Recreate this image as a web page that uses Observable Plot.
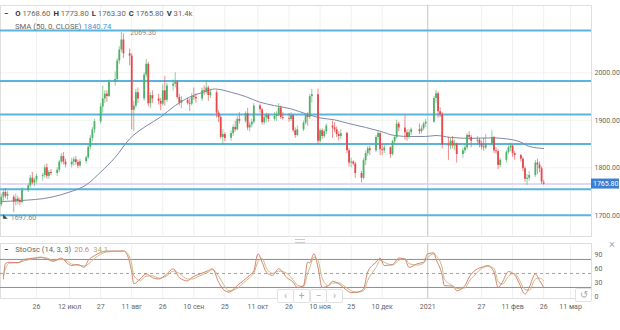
<!DOCTYPE html>
<html><head><meta charset="utf-8">
<script src="https://cdn.jsdelivr.net/npm/d3@7"></script>
<script src="https://cdn.jsdelivr.net/npm/@observablehq/plot@0.6"></script>
<style>
body{margin:0;background:#fff;font-family:Roboto,"Liberation Sans",sans-serif;}
#wrap{position:relative;width:620px;height:330px;overflow:hidden;background:#fff;}
#main{position:absolute;left:0;top:0;}
#osc{position:absolute;left:0;top:238px;}
.leg{position:absolute;font-size:7.7px;line-height:10px;color:#666;white-space:nowrap;}
.leg b{color:#333;font-weight:700;}
.btn{position:absolute;width:15px;height:12px;border:1px solid #e2e2e2;border-radius:2px;background:rgba(255,255,255,0.9);color:#aaa;font-size:10px;line-height:12px;text-align:center;}
</style></head><body>
<div id="wrap">
  <div id="main"></div>
  <div id="osc"></div>
</div>
<script>
// ---------- DATA ----------
const dates = ["2020-06-09","2020-06-10","2020-06-11","2020-06-12","2020-06-15","2020-06-16","2020-06-17","2020-06-18","2020-06-19","2020-06-22","2020-06-23","2020-06-24","2020-06-25","2020-06-26","2020-06-29","2020-06-30","2020-07-01","2020-07-02","2020-07-03","2020-07-06","2020-07-07","2020-07-08","2020-07-09","2020-07-10","2020-07-13","2020-07-14","2020-07-15","2020-07-16","2020-07-17","2020-07-20","2020-07-21","2020-07-22","2020-07-23","2020-07-24","2020-07-27","2020-07-28","2020-07-29","2020-07-30","2020-07-31","2020-08-03","2020-08-04","2020-08-05","2020-08-06","2020-08-07","2020-08-10","2020-08-11","2020-08-12","2020-08-13","2020-08-14","2020-08-17","2020-08-18","2020-08-19","2020-08-20","2020-08-21","2020-08-24","2020-08-25","2020-08-26","2020-08-27","2020-08-28","2020-08-31","2020-09-01","2020-09-02","2020-09-03","2020-09-04","2020-09-07","2020-09-08","2020-09-09","2020-09-10","2020-09-11","2020-09-14","2020-09-15","2020-09-16","2020-09-17","2020-09-18","2020-09-21","2020-09-22","2020-09-23","2020-09-24","2020-09-25","2020-09-28","2020-09-29","2020-09-30","2020-10-01","2020-10-02","2020-10-05","2020-10-06","2020-10-07","2020-10-08","2020-10-09","2020-10-12","2020-10-13","2020-10-14","2020-10-15","2020-10-16","2020-10-19","2020-10-20","2020-10-21","2020-10-22","2020-10-23","2020-10-26","2020-10-27","2020-10-28","2020-10-29","2020-10-30","2020-11-02","2020-11-03","2020-11-04","2020-11-05","2020-11-06","2020-11-09","2020-11-10","2020-11-11","2020-11-12","2020-11-13","2020-11-16","2020-11-17","2020-11-18","2020-11-19","2020-11-20","2020-11-23","2020-11-24","2020-11-25","2020-11-26","2020-11-27","2020-11-30","2020-12-01","2020-12-02","2020-12-03","2020-12-04","2020-12-07","2020-12-08","2020-12-09","2020-12-10","2020-12-11","2020-12-14","2020-12-15","2020-12-16","2020-12-17","2020-12-18","2020-12-21","2020-12-22","2020-12-23","2020-12-24","2020-12-28","2020-12-29","2020-12-30","2020-12-31","2021-01-04","2021-01-05","2021-01-06","2021-01-07","2021-01-08","2021-01-11","2021-01-12","2021-01-13","2021-01-14","2021-01-15","2021-01-18","2021-01-19","2021-01-20","2021-01-21","2021-01-22","2021-01-25","2021-01-26","2021-01-27","2021-01-28","2021-01-29","2021-02-01","2021-02-02","2021-02-03","2021-02-04","2021-02-05","2021-02-08","2021-02-09","2021-02-10","2021-02-11","2021-02-12","2021-02-15","2021-02-16","2021-02-17","2021-02-18","2021-02-19","2021-02-22","2021-02-23","2021-02-24","2021-02-25","2021-02-26"];
const opens = [1722,1738,1748,1740,1738,1728,1734,1730,1727,1752,1762,1778,1768,1774,1782,1784,
1800,1782,1790,1788,1795,1812,1824,1812,1806,1812,1817,1811,1804,1813,1821,1843,1862,1880,1897,1928,1945,1955,1950,
1980,1986,2025,2048,2069,2040,2035,1921,1930,1958,1945,1995,2018,1935,1952,1945,1940,1934,1962,1942,1972,
1976,1980,1948,1936,1942,1936,1934,1950,1948,1945,1962,1960,1968,1952,1958,1915,1906,1864,1870,1862,1872,1885,
1880,1902,1898,1914,1884,1890,1896,1930,1922,1895,1905,1910,1902,1908,1912,1926,1906,1904,1902,1910,1878,1868,
1880,1894,1910,1906,1950,1954,1856,1878,1866,1876,1888,1884,1880,1870,1866,1872,1836,1810,1812,1808,1788,
1778,1815,1830,1840,1836,1864,1872,1838,1836,1842,1828,1855,1864,1892,1884,1874,1864,1874,1880,1876,1882,1892,
1896,1946,1956,1918,1912,1848,1846,1856,1846,1850,1828,1836,1842,1868,1864,1856,1858,1850,1844,1842,
1850,1864,1836,1834,1805,1816,1832,1842,1846,1830,1826,1818,1798,1776,1778,1784,1810,1806,1798,1768.6];
const highs = [1745,1752,1756,1750,1742,1745,1740,1736,1758,1766,1784,1790,1778,1786,1788,1806,
1808,1794,1796,1800,1816,1830,1832,1818,1820,1822,1824,1816,1818,1825,1848,1868,1885,1902,1935,1972,1962,1962,1985,
2002,2030,2055,2085,2082,2050,2040,1940,1965,1968,2000,2028,2022,1958,1962,1955,1946,1975,1992,1978,1985,
2000,1984,1955,1950,1946,1945,1956,1968,1955,1968,1972,1984,1972,1965,1962,1920,1910,1880,1874,1878,1890,1898,
1908,1916,1918,1925,1896,1902,1935,1934,1925,1910,1915,1914,1916,1918,1935,1930,1916,1914,1916,1912,1884,1888,
1898,1912,1916,1954,1965,1966,1882,1882,1880,1892,1898,1895,1886,1876,1880,1875,1840,1820,1815,1812,1792,
1820,1835,1845,1846,1868,1876,1874,1850,1848,1844,1858,1868,1900,1896,1910,1880,1880,1884,1892,1888,1896,1902,
1950,1963,1960,1926,1916,1864,1862,1866,1858,1852,1842,1850,1872,1876,1868,1866,1862,1856,1862,1870,
1878,1866,1842,1838,1820,1836,1846,1852,1848,1834,1828,1822,1802,1786,1792,1815,1818,1812,1802,1773.8];
const lows = [1718,1730,1735,1732,1706,1720,1722,1720,1724,1748,1758,1764,1760,1766,1772,1778,
1776,1776,1784,1782,1790,1808,1806,1800,1800,1804,1806,1798,1800,1808,1818,1838,1855,1872,1892,1915,1935,1938,1948,
1972,1980,2018,2042,2030,2015,1880,1876,1925,1935,1940,1990,1928,1925,1935,1932,1920,1930,1930,1938,1962,
1968,1944,1930,1924,1932,1918,1930,1942,1936,1940,1952,1955,1940,1946,1905,1895,1860,1850,1855,1856,1866,1875,
1878,1892,1894,1878,1876,1884,1892,1915,1890,1890,1894,1896,1898,1898,1908,1902,1900,1896,1898,1874,1862,1865,
1876,1890,1888,1902,1936,1848,1852,1860,1862,1870,1862,1874,1864,1856,1860,1830,1802,1800,1804,1778,1768,
1775,1805,1824,1826,1832,1856,1826,1826,1830,1820,1825,1848,1860,1876,1858,1856,1860,1868,1870,1872,1878,1885,
1894,1936,1904,1906,1840,1815,1838,1840,1836,1810,1820,1830,1838,1858,1842,1848,1842,1838,1835,1838,
1846,1830,1828,1796,1800,1810,1828,1834,1822,1816,1812,1792,1770,1763,1772,1780,1786,1790,1765,1763.3];
const closes = [1738,1748,1740,1744,1728,1734,1730,1727,1752,1762,1778,1768,1774,1782,1784,1800,
1782,1790,1788,1795,1812,1824,1812,1806,1812,1817,1811,1804,1813,1821,1843,1862,1880,1897,1928,1945,1955,1950,1980,
1986,2025,2048,2069,2040,2035,1921,1930,1958,1945,1995,2018,1935,1952,1945,1940,1934,1962,1942,1972,1976,
1980,1948,1936,1942,1936,1934,1950,1948,1945,1962,1960,1968,1952,1958,1915,1906,1864,1870,1862,1872,1885,1880,
1902,1898,1914,1884,1890,1896,1930,1922,1895,1905,1910,1902,1908,1912,1926,1906,1904,1902,1910,1878,1868,1880,
1894,1910,1906,1950,1954,1856,1878,1866,1876,1888,1884,1880,1870,1866,1872,1836,1810,1812,1808,1788,1778,
1815,1830,1840,1836,1864,1872,1838,1836,1842,1828,1855,1864,1892,1884,1874,1864,1874,1880,1876,1882,1892,1896,
1946,1956,1918,1912,1848,1846,1856,1846,1850,1828,1836,1842,1868,1864,1856,1858,1850,1844,1842,1850,
1864,1836,1834,1805,1816,1832,1842,1846,1830,1826,1818,1798,1776,1778,1784,1810,1806,1798,1770,1765.8];
const lastVolume = "31.4k";
const extremeLabels = [2069.30, 1697.60];   // high, low markers

const smaDates = ["2020-06-09","2020-06-18","2020-07-03","2020-07-12","2020-07-20","2020-07-27","2020-08-03","2020-08-10","2020-08-18","2020-08-25","2020-09-01","2020-09-08","2020-09-16","2020-09-20","2020-09-28","2020-10-05","2020-10-12","2020-10-19","2020-10-27","2020-11-03","2020-11-10","2020-11-17","2020-11-24","2020-12-02","2020-12-09","2020-12-16","2020-12-23","2020-12-31","2021-01-05","2021-01-12","2021-01-22","2021-02-01","2021-02-08","2021-02-15","2021-02-19","2021-02-26"];
const smaValues = [1729,1731,1738,1749,1764,1791,1822,1861,1888,1907,1931,1949,1961,1966,1959,1950,1938,1931,1924,1914,1905,1901,1893,1885,1877,1868,1866,1866,1868,1864,1862,1863,1861,1854,1845,1840.74];

const levels = [2089,1983,1912,1850,1755,1700];   // horizontal support / resistance lines

const oscDates = ["2020-06-10","2020-06-11","2020-06-13","2020-06-17","2020-06-20","2020-06-25","2020-06-28","2020-07-01","2020-07-04","2020-07-08","2020-07-11","2020-07-13","2020-07-16","2020-07-19","2020-07-21","2020-07-24","2020-07-30","2020-08-07","2020-08-09","2020-08-11","2020-08-12","2020-08-15","2020-08-18","2020-08-21","2020-08-24","2020-08-28","2020-08-31","2020-09-03","2020-09-07","2020-09-09","2020-09-13","2020-09-17","2020-09-19","2020-09-22","2020-09-25","2020-09-27","2020-10-01","2020-10-04","2020-10-07","2020-10-09","2020-10-11","2020-10-13","2020-10-15","2020-10-18","2020-10-21","2020-10-25","2020-10-28","2020-10-30","2020-11-02","2020-11-04","2020-11-05","2020-11-07","2020-11-09","2020-11-11","2020-11-14","2020-11-16","2020-11-19","2020-11-22","2020-11-25","2020-11-28","2020-12-01","2020-12-03","2020-12-07","2020-12-09","2020-12-11","2020-12-15","2020-12-18","2020-12-21","2020-12-23","2020-12-27","2020-12-30","2021-01-01","2021-01-04","2021-01-05","2021-01-08","2021-01-09","2021-01-13","2021-01-15","2021-01-19","2021-01-21","2021-01-25","2021-01-27","2021-01-30","2021-02-02","2021-02-04","2021-02-06","2021-02-09","2021-02-12","2021-02-14","2021-02-17","2021-02-19","2021-02-22","2021-02-24","2021-02-26"];
const kValues = [38,71,74,73,80,83,85,81,76,83,71,67,69,63,78,88,98,98,88,53,28,38,49,41,38,49,60,41,34,41,49,56,60,31,13,10,24,35,46,56,92,74,53,46,60,41,31,20,24,74,73,92,63,20,24,33,28,17,9,10,17,53,74,83,67,69,83,80,63,71,74,92,94,81,46,24,23,13,24,42,60,63,67,53,20,31,54,47,31,6,20,49,35,20.6];
const dValues = [45,60,72,73,77,82,84,83,78,80,76,70,68,66,70,82,96,98,93,70,45,35,44,45,40,45,55,50,38,38,45,53,58,44,22,13,18,30,41,51,75,82,62,50,55,50,36,25,22,50,62,85,78,40,24,29,30,22,13,10,13,35,63,78,74,68,78,82,71,68,72,84,92,88,62,38,24,18,19,33,52,61,65,61,33,27,44,50,38,16,14,38,40,34.1];
const oscLevels = [80,20];
const oscMid = [50];

const xTickDates = ["2020-06-26","2020-07-12","2020-07-27","2020-08-11","2020-08-26","2020-09-10","2020-09-25","2020-10-11","2020-10-26","2020-11-10","2020-11-25","2020-12-10","2021-01-01","2021-01-27","2021-02-11","2021-02-26","2021-03-11"];
const xTickLabels = ["26","12 июл","27","11 авг","26","10 сен","25","11 окт","26","10 ноя","25","10 дек","2021","27","11 фев","26","11 мар"];
const priceTicks = [1700,1800,1900,2000];
const oscTicks = [0,30,60,90];
const yearMark = ["2021-01-01"];

// ---------- BUILD ----------
const P = s => new Date(s + "T00:00:00Z");
const candles = dates.map((d,i)=>({date:P(d),open:opens[i],high:highs[i],low:lows[i],close:closes[i]}));
const ups = candles.filter(d=>d.close>=d.open);
const downs = candles.filter(d=>d.close<d.open);
const sma = smaDates.map((d,i)=>({date:P(d),v:smaValues[i]}));
const kLine = oscDates.map((d,i)=>({date:P(d),v:kValues[i]}));
const dLine = oscDates.map((d,i)=>({date:P(d),v:dValues[i]}));
const tickDates = xTickDates.map(P);
const labelMap = new Map(tickDates.map((d,i)=>[+d, xTickLabels[i]]));
const yearDates = yearMark.map(P);
const last = candles[candles.length-1];
const peak = candles.reduce((a,b)=>b.high>a.high?b:a);
const trough = candles.reduce((a,b)=>b.low<a.low?b:a);

const xDomain = [new Date("2020-06-08T14:37:00Z"), new Date("2021-03-21T02:47:00Z")];
const GREEN = "#4fb069", RED = "#e5484b";
const K_COLOR = "#d6846f", D_COLOR = "#c8bb88";
const font = {fontFamily:"Roboto, 'Liberation Sans', sans-serif", fontSize:"7px", color:"#666", background:"transparent", overflow:"visible"};

const main = Plot.plot({
  width:620, height:238, marginTop:5, marginBottom:2, marginLeft:0, marginRight:29,
  style:font,
  x:{type:"utc", domain:xDomain, axis:null},
  y:{domain:[1655.4,2143.8], range:[236,4], axis:null},
  marks:[
    Plot.ruleX(tickDates, {stroke:"#f0f0f0"}),
    Plot.ruleY(priceTicks, {stroke:"#f3f3f3"}),
    Plot.frame({stroke:"#dedede"}),
    Plot.ruleX(yearDates, {stroke:"#c9c9c9"}),
    Plot.ruleY([last.close], {stroke:"#d9cdf3", strokeWidth:1.5}),
    Plot.ruleY(levels, {stroke:"#5ab4de", strokeWidth:2}),
    Plot.line(sma, {x:"date", y:"v", stroke:"#7f88aa", strokeWidth:1, curve:"monotone-x"}),
    Plot.ruleX(ups, {x:"date", y1:"low", y2:"high", stroke:GREEN, strokeWidth:0.8, strokeOpacity:0.8}),
    Plot.ruleX(downs, {x:"date", y1:"low", y2:"high", stroke:RED, strokeWidth:0.8, strokeOpacity:0.8}),
    Plot.ruleX(ups, {x:"date", y1:"open", y2:"close", stroke:GREEN, strokeWidth:1.8}),
    Plot.ruleX(downs, {x:"date", y1:"open", y2:"close", stroke:RED, strokeWidth:1.8}),
    Plot.text([peak], {x:"date", y:"high", text:()=>extremeLabels[0].toFixed(2), dx:9, textAnchor:"start", fill:"#888", fontSize:7}),
    Plot.text([trough], {x:"date", y:"low", text:()=>extremeLabels[1].toFixed(2), dx:-3, dy:5, textAnchor:"start", fill:"#888", fontSize:7}),
    Plot.text([trough], {x:"date", y:"low", text:()=>"◣", dx:-8, dy:4, fill:"#444", fontSize:6}),
    Plot.axisY({anchor:"right", ticks:priceTicks, tickFormat:d=>d.toFixed(2), tickSize:0, tickPadding:3, label:null})
  ]
});
document.getElementById("main").appendChild(main);
{
  const yy = main.scale("y").apply(last.close);
  const s = d3.select(main);
  s.append("rect").attr("x",591).attr("y",yy-5).attr("width",28).attr("height",10).attr("fill","#3b7fd3");
  s.append("text").attr("x",593).attr("y",yy).attr("dy","0.35em").attr("fill","#fff")
    .attr("text-anchor","start").attr("font-size",7).text(last.close.toFixed(2));
}

const osc = Plot.plot({
  width:620, height:80, marginTop:5, marginBottom:20, marginLeft:0, marginRight:29,
  style:font,
  x:{type:"utc", domain:xDomain},
  y:{domain:[0,100], range:[58.3,11.6]},
  marks:[
    Plot.ruleX(tickDates, {stroke:"#f0f0f0"}),
    Plot.frame({stroke:"#dedede"}),
    Plot.ruleX(yearDates, {stroke:"#c9c9c9"}),
    Plot.ruleY(oscLevels, {stroke:"#8e8e8e", strokeWidth:1}),
    Plot.ruleY(oscMid, {stroke:"#a0a0a0", strokeDasharray:"3,3"}),
    Plot.line(dLine, {x:"date", y:"v", stroke:D_COLOR, strokeWidth:1, curve:"monotone-x"}),
    Plot.line(kLine, {x:"date", y:"v", stroke:K_COLOR, strokeWidth:1, curve:"monotone-x"}),
    Plot.axisY({anchor:"right", ticks:oscTicks, tickSize:0, tickPadding:3, label:null}),
    Plot.axisX({ticks:tickDates, tickFormat:d=>labelMap.get(+d), tickSize:0, tickPadding:6, label:null})
  ]
});
document.getElementById("osc").appendChild(osc);

// ---------- LEGENDS & CONTROLS ----------
const wrap = document.getElementById("wrap");
function addDiv(html, style, cls){ const d=document.createElement("div"); d.className=cls||"leg"; d.setAttribute("style",style); d.innerHTML=html; wrap.appendChild(d); return d; }
const f2 = v=>v.toFixed(2);
addDiv(`<b>−</b><span style="margin-left:7px"><b>O</b> ${f2(last.open)}</span><span style="margin-left:3px"><b>H</b> ${f2(last.high)}</span><span style="margin-left:3px"><b>L</b> ${f2(last.low)}</span><span style="margin-left:3px"><b>C</b> ${f2(last.close)}</span><span style="margin-left:3px"><b>V</b> ${lastVolume}</span>`, "left:4px;top:9px");
addDiv(`SMA (50, 0, CLOSE) <span style="color:#4a8fd8">${f2(smaValues[smaValues.length-1])}</span>`, "left:15px;top:22px");
addDiv(`<b>−</b><span style="margin-left:7px">StoOsc (14, 3, 3)</span> <span style="color:${K_COLOR};margin-left:1px">${kValues[kValues.length-1].toFixed(1)}</span> <span style="color:#aab06a;margin-left:2px">${dValues[dValues.length-1].toFixed(1)}</span>`, "left:4px;top:245px");
addDiv("×", "left:609px;top:240px;font-size:11px;color:#aaa");
addDiv("", "left:295px;top:239px;width:10px;height:2px;border-top:1px solid #ccc;border-bottom:1px solid #ccc", "leg");
addDiv("‹", "left:277px;top:289px", "btn");
addDiv("+", "left:293px;top:289px", "btn");
addDiv("−", "left:310px;top:289px", "btn");
addDiv("›", "left:326px;top:289px", "btn");
addDiv("↺", "left:575px;top:288px", "btn");
</script>
</body></html>
